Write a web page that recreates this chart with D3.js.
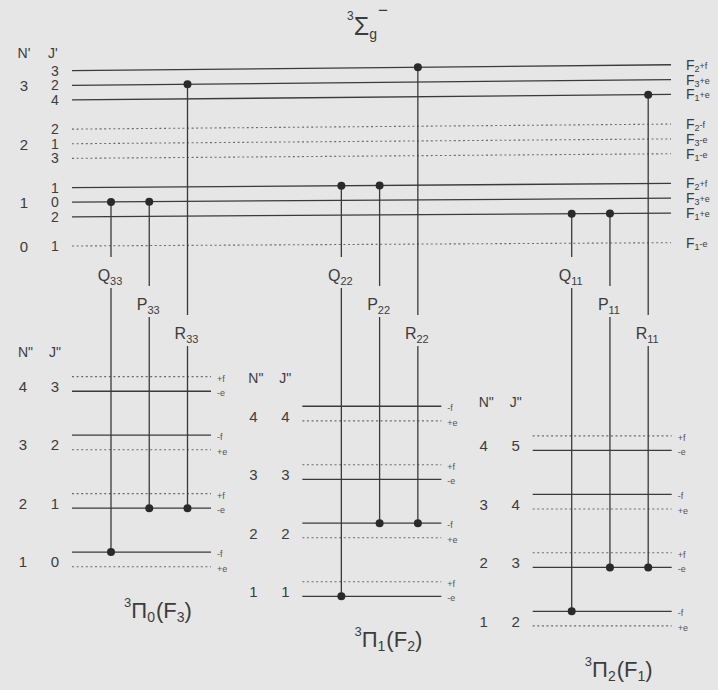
<!DOCTYPE html>
<html>
<head>
<meta charset="utf-8">
<script src="https://cdn.jsdelivr.net/npm/d3@7"></script>
<style>
  html, body { margin: 0; padding: 0; background: #e6e6e6; }
  svg { display: block; font-family: "Liberation Sans", Arial, Helvetica, sans-serif; }
</style>
</head>
<body>
<svg id="chart" width="718" height="690"></svg>
<script>
// Upper state 3Σg− : rotational sublevels, listed from top to bottom
const upperN = [3, 3, 3, 2, 2, 2, 1, 1, 1, 0];
const upperJ = [3, 2, 4, 2, 1, 3, 1, 0, 2, 1];
const upperF = [2, 3, 1, 2, 3, 1, 2, 3, 1, 1];
const upperParity = ["+f", "+e", "+e", "-f", "-e", "-e", "+f", "+e", "+e", "-e"];
const upperEnergy = [12, 11, 10, 8, 7, 6, 4, 3, 2, 0];

// Lower state 3Π sub-bands
const lowerOmega = [0, 1, 2];
const lowerF = [3, 2, 1];
const lowerN = [4, 3, 2, 1];
const lowerJ = [[3, 2, 1, 0], [4, 3, 2, 1], [5, 4, 3, 2]];
// two Λ-doublet components per N'', top to bottom
const lowerParity = [
  ["+f", "-e", "-f", "+e", "+f", "-e", "-f", "+e"],
  ["-f", "+e", "+f", "-e", "-f", "+e", "+f", "-e"],
  ["+f", "-e", "-f", "+e", "+f", "-e", "-f", "+e"]
];
const lowerEnergy = [13, 12, 9, 8, 5, 4, 1, 0];

// Transitions
const branches = ["Q", "P", "R"];
const branchDJ = { Q: 0, P: -1, R: 1 };
const transBranch = ["Q", "P", "R", "Q", "P", "R", "Q", "P", "R"];
const transState = [0, 0, 0, 1, 1, 1, 2, 2, 2];
const transLowerJ = [0, 1, 1, 1, 2, 2, 2, 3, 3];

const svg = d3.select("#chart");
const ink = "#3a3a3a";
const dotInk = "#6a6a6a";
const FONT_TXT = "#3c3c3c";

// ---- scales ----
const upperX0 = 72, upperX1 = 671;
const yUpper = d3.scaleLinear().domain([0, 12]).range([246, 70.7]);
// the upper ladder drops slightly towards the right
const tilt = e => 3.3 + 0.22 * e;
const yUpperAt = (e, x) => yUpper(e) - tilt(e) * (x - upperX0) / (upperX1 - upperX0);

const groupX = d3.scaleBand().domain(lowerOmega).range([72, 72 + 3 * 230.35]).paddingInner(0);
const levelWidth = 139;
const branchX = d3.scalePoint().domain(branches).range([39, 115.5]);
const groupBase = d3.scaleLinear().domain([0, 1]).range([566.7, 596.3]);
const yLower = (s, e) => d3.scaleLinear().domain([0, 13]).range([groupBase(s), groupBase(s) - 13 * 14.62])(e);
const labelY = d3.scalePoint().domain(branches).range([275, 333]);

const isSolidUpper = p => p[0] === "+";
const isSolidLower = p => p[0] === "-";

function styleLine(sel, solid) {
  sel.attr("stroke", solid ? ink : dotInk)
     .attr("stroke-width", solid ? 1.3 : 1.1)
     .attr("stroke-dasharray", solid ? null : "2,2.6")
     .attr("fill", "none");
}

// ---- upper levels ----
const upper = upperEnergy.map((e, i) => ({ e, N: upperN[i], J: upperJ[i], F: upperF[i], p: upperParity[i] }));
const gUp = svg.append("g");
gUp.selectAll("line.up").data(upper).join("line")
  .attr("x1", upperX0).attr("x2", upperX1)
  .attr("y1", d => yUpperAt(d.e, upperX0)).attr("y2", d => yUpperAt(d.e, upperX1))
  .each(function (d) { styleLine(d3.select(this), isSolidUpper(d.p)); });

// J' column
gUp.selectAll("text.j").data(upper).join("text")
  .attr("x", 55).attr("y", d => yUpper(d.e) + 5)
  .attr("text-anchor", "middle").attr("font-size", 14).attr("fill", FONT_TXT)
  .text(d => d.J);
// N' column (centred on the middle member of each group)
const nGroups = d3.groups(upper, d => d.N);
gUp.selectAll("text.n").data(nGroups).join("text")
  .attr("x", 24).attr("y", g => yUpper(d3.mean(g[1], d => d.e)) + 6)
  .attr("text-anchor", "middle").attr("font-size", 15).attr("fill", FONT_TXT)
  .text(g => g[0]);
gUp.append("text").attr("x", 24).attr("y", 58).attr("text-anchor", "middle")
  .attr("font-size", 14).attr("fill", FONT_TXT).text("N'");
gUp.append("text").attr("x", 48).attr("y", 58)
  .attr("font-size", 14).attr("fill", FONT_TXT).text("J'");

// right-hand labels F_i ±p
const rl = gUp.selectAll("text.f").data(upper).join("text")
  .attr("x", 686).attr("y", d => yUpperAt(d.e, upperX1) + 5)
  .attr("font-size", 14).attr("fill", FONT_TXT);
rl.append("tspan").text("F");
rl.append("tspan").attr("font-size", 9).attr("dy", 2).text(d => d.F);
rl.append("tspan").attr("font-size", 9).attr("dy", -3).text(d => d.p);

// title of the upper state
const tSig = svg.append("text").attr("x", 347).attr("y", 35).attr("font-size", 25).attr("fill", FONT_TXT);
tSig.append("tspan").attr("font-size", 12).attr("dy", -15).text("3");
tSig.append("tspan").attr("dy", 15).text("Σ");
tSig.append("tspan").attr("font-size", 14).attr("dy", 4).text("g");
tSig.append("tspan").attr("font-size", 17).attr("dy", -23).attr("dx", 1).text("−");

// ---- lower levels ----
lowerOmega.forEach((om, s) => {
  const g = svg.append("g");
  const x0 = groupX(om), x1 = x0 + levelWidth;
  const lv = lowerEnergy.map((e, k) => ({ e, k, p: lowerParity[s][k] }));
  g.selectAll("line").data(lv).join("line")
    .attr("x1", x0).attr("x2", x1)
    .attr("y1", d => yLower(s, d.e)).attr("y2", d => yLower(s, d.e))
    .each(function (d) { styleLine(d3.select(this), isSolidLower(d.p)); });
  g.selectAll("text.par").data(lv).join("text")
    .attr("x", x1 + 6).attr("y", d => yLower(s, d.e) + 5)
    .attr("font-size", 9).attr("fill", "#555").text(d => d.p);

  // N'' / J'' columns
  const rows = lowerN.map((n, i) => ({ n, j: lowerJ[s][i], y: (yLower(s, lowerEnergy[2 * i]) + yLower(s, lowerEnergy[2 * i + 1])) / 2 }));
  g.selectAll("text.rn").data(rows).join("text")
    .attr("x", x0 - 49).attr("y", d => d.y + 8).attr("text-anchor", "middle")
    .attr("font-size", 15).attr("fill", FONT_TXT).text(d => d.n);
  g.selectAll("text.rj").data(rows).join("text")
    .attr("x", x0 - 17).attr("y", d => d.y + 8).attr("text-anchor", "middle")
    .attr("font-size", 15).attr("fill", FONT_TXT).text(d => d.j);
  const headGap = [20, 23, 29][s];
  const topY = yLower(s, lowerEnergy[0]);
  g.append("text").attr("x", x0 - 54).attr("y", topY - headGap)
    .attr("font-size", 14).attr("fill", FONT_TXT).text('N"');
  g.append("text").attr("x", x0 - 23).attr("y", topY - headGap)
    .attr("font-size", 14).attr("fill", FONT_TXT).text('J"');

  // sub-band title  3Π_Ω(F_i)
  const t = g.append("text").attr("x", x0 + 86).attr("y", groupBase(s) + 51)
    .attr("text-anchor", "middle").attr("font-size", 22).attr("fill", FONT_TXT);
  t.append("tspan").attr("font-size", 13).attr("dy", -11).text("3");
  t.append("tspan").attr("dy", 11).text("Π");
  t.append("tspan").attr("font-size", 14).attr("dy", 4).text(om);
  t.append("tspan").attr("dy", -4).attr("dx", 1).text("(F");
  t.append("tspan").attr("font-size", 14).attr("dy", 4).text(lowerF[s]);
  t.append("tspan").attr("dy", -4).text(")");
});

// ---- transitions ----
const trans = transBranch.map((b, i) => {
  const s = transState[i];
  const jl = transLowerJ[i];
  const ni = lowerJ[s].indexOf(jl);
  const kk = [2 * ni, 2 * ni + 1].find(k => isSolidLower(lowerParity[s][k]));
  const ju = jl + branchDJ[b];
  const u = upper.find(d => d.F === lowerF[s] && d.J === ju && isSolidUpper(d.p));
  const x = groupX(lowerOmega[s]) + branchX(b);
  return { b, s, x, yLow: yLower(s, lowerEnergy[kk]), yUp: yUpperAt(u.e, x),
           sub: String(lowerF[s]) + String(lowerF[s]), ly: labelY(b) };
});

const gT = svg.append("g");
gT.selectAll("line.a").data(trans).join("line")
  .attr("x1", d => d.x).attr("x2", d => d.x)
  .attr("y1", d => d.yUp).attr("y2", d => d.ly - 18)
  .attr("stroke", ink).attr("stroke-width", 1.3);
gT.selectAll("line.b").data(trans).join("line")
  .attr("x1", d => d.x).attr("x2", d => d.x)
  .attr("y1", d => d.ly + 13).attr("y2", d => d.yLow)
  .attr("stroke", ink).attr("stroke-width", 1.3);
gT.selectAll("circle.u").data(trans).join("circle")
  .attr("cx", d => d.x).attr("cy", d => d.yUp).attr("r", 4).attr("fill", "#2a2a2a");
gT.selectAll("circle.l").data(trans).join("circle")
  .attr("cx", d => d.x).attr("cy", d => d.yLow).attr("r", 4).attr("fill", "#2a2a2a");
const tl = gT.selectAll("text.lab").data(trans).join("text")
  .attr("x", d => d.x - 1).attr("y", d => d.ly + 6)
  .attr("text-anchor", "middle").attr("font-size", 16).attr("fill", FONT_TXT);
tl.append("tspan").text(d => d.b);
tl.append("tspan").attr("font-size", 11).attr("dy", 4).text(d => d.sub);
</script>
</body>
</html>
